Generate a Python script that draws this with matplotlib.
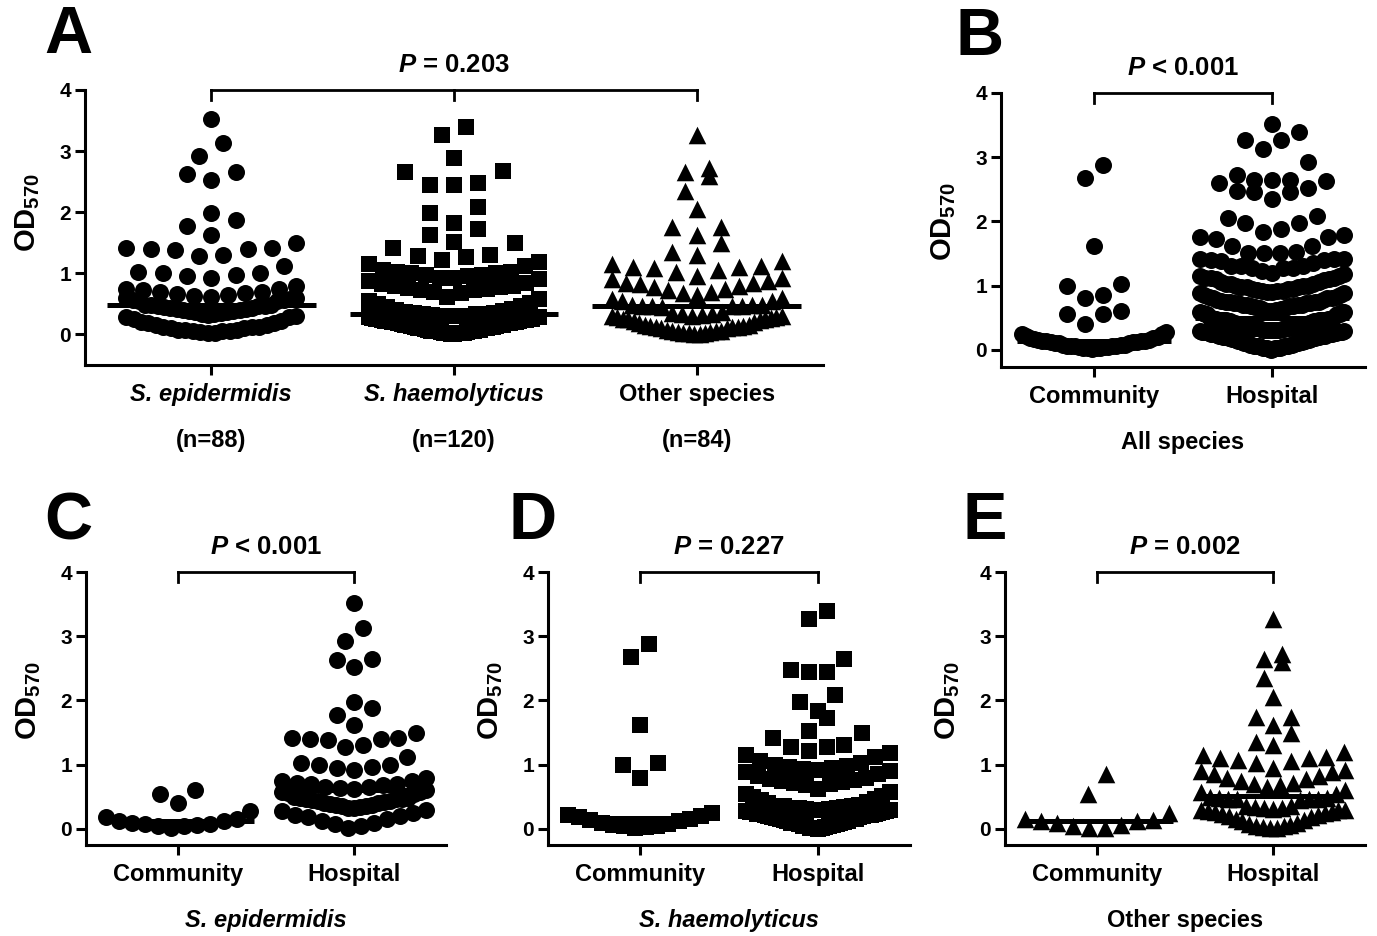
import numpy as np
import matplotlib
matplotlib.use("Agg")
import matplotlib.pyplot as plt
from matplotlib import transforms

plt.rcParams.update({
    'font.family': 'Liberation Sans',
    'font.weight': 'bold',
    'mathtext.fontset': 'custom',
    'mathtext.rm': 'Liberation Sans:bold',
    'mathtext.bf': 'Liberation Sans:bold',
    'mathtext.it': 'Liberation Sans:bold:italic',
    'axes.linewidth': 2.2,
})

########### Daten (OD570) ###########
se_comm = [0.02, 0.04, 0.05, 0.06, 0.07, 0.08, 0.10, 0.12, 0.13, 0.15, 0.18, 0.28, 0.40, 0.55, 0.60]
se_hosp = [3.52, 3.13, 2.92, 2.65, 2.63, 2.52, 1.98, 1.88, 1.78, 1.62, 1.50, 1.42, 1.42, 1.40,
           1.40, 1.38, 1.30, 1.28, 1.12, 1.02, 1.00, 1.00, 0.97, 0.95, 0.92, 0.80, 0.75,
           0.74, 0.72, 0.70, 0.70, 0.68, 0.66, 0.65, 0.63, 0.62, 0.60,
           0.58, 0.57, 0.56, 0.55, 0.48, 0.47, 0.49, 0.48, 0.47, 0.46, 0.45, 0.44, 0.43,
           0.42, 0.41, 0.40, 0.39, 0.38, 0.37, 0.36, 0.35, 0.34, 0.33, 0.32, 0.30, 0.28,
           0.25, 0.22, 0.20, 0.18, 0.15, 0.12, 0.10, 0.08, 0.05, 0.02]
sh_comm = [2.88, 2.68, 1.62, 1.02, 1.00, 0.80, 0.25, 0.22, 0.20, 0.18, 0.16, 0.14, 0.12,
           0.10, 0.08, 0.06, 0.05, 0.04, 0.03, 0.02]
sh_hosp = [3.40, 3.27, 2.65, 2.47, 2.45, 2.45, 2.08, 1.98, 1.83, 1.72, 1.52, 1.50, 1.42,
           1.30, 1.28, 1.27, 1.22, 1.18, 1.15, 1.12, 1.05, 1.02, 1.00, 0.98, 0.97, 0.95,
           0.93, 0.92, 0.90, 0.88, 0.85, 0.82, 0.80, 0.78, 0.76, 0.75, 0.73, 0.72, 0.70,
           0.68, 0.62, 0.58, 0.55, 0.52, 0.50, 0.47, 0.45, 0.42, 0.40, 0.38,
           0.36, 0.35, 0.34, 0.33, 0.32, 0.31, 0.30, 0.29, 0.28, 0.27, 0.26, 0.25, 0.24,
           0.23, 0.22, 0.21, 0.20, 0.19, 0.18, 0.17, 0.16, 0.15, 0.14, 0.13, 0.12, 0.11,
           0.10, 0.09, 0.08, 0.07, 0.06, 0.05, 0.04, 0.03, 0.02, 0.01, 0.00, 0.35, 0.33,
           0.31, 0.30, 0.28, 0.26, 0.24, 0.22, 0.20, 0.15, 0.10, 0.05, 0.02]
oth_comm = [0.85, 0.55, 0.25, 0.15, 0.14, 0.13, 0.12, 0.10, 0.06, 0.04, 0.02, 0.01]
oth_hosp = [3.27, 2.72, 2.65, 2.60, 2.35, 2.05, 1.75, 1.75, 1.62, 1.50, 1.35, 1.30, 1.20,
            1.15, 1.12, 1.10, 1.10, 1.08, 1.05, 1.02, 0.95, 0.92, 0.90, 0.88, 0.85, 0.82,
            0.80, 0.78, 0.75, 0.72, 0.70, 0.68, 0.65, 0.60, 0.58, 0.55,
            0.49, 0.48, 0.48, 0.47, 0.47, 0.46, 0.46, 0.45, 0.35, 0.34, 0.33, 0.32, 0.31,
            0.30, 0.29, 0.28, 0.27, 0.26, 0.25, 0.24, 0.22, 0.20, 0.18, 0.16, 0.14, 0.12,
            0.10, 0.08, 0.06, 0.05, 0.04, 0.03, 0.02, 0.01, 0.30, 0.36]

species = ['S. epidermidis', 'S. haemolyticus', 'Other species']
n_labels = ['(n=88)', '(n=120)', '(n=84)']
origin = ['Community', 'Hospital']
p_values = ['= 0.203', '< 0.001', '< 0.001', '= 0.227', '= 0.002']

W, H = 1377, 936


def box(l, t, r, b):
    return [l / W, 1 - b / H, (r - l) / W, (b - t) / H]


def swarm(vals, x0, bin_h, step, half_w):
    # Prism-artige Punktwolke: Zeilen nach y, kleinste Werte in der Mitte
    vals = np.sort(np.asarray(vals, float))
    xs, ys = [], []
    i = 0
    while i < len(vals):
        j = i
        while j < len(vals) and vals[j] < vals[i] + bin_h:
            j += 1
        row = vals[i:j]
        n = len(row)
        d = step if n < 2 else min(step, 2 * half_w / (n - 1))
        pos = (np.arange(n) - (n - 1) / 2) * d
        order = sorted(range(n), key=lambda k: (abs(pos[k]), pos[k]))
        for v, k in zip(row, order):
            xs.append(x0 + pos[k])
            ys.append(v)
        i = j
    return np.array(xs), np.array(ys)


def panel(rect, groups, markers, sizes, ylo, half_px, ticklabels, italic, ptext, letter, letter_xy):
    ax = fig.add_axes(box(*rect))
    ncat = len(groups)
    px_unit = (rect[2] - rect[0]) / (ncat - 1 + 1.04)
    for i, (g, m, s) in enumerate(zip(groups, markers, sizes)):
        x, y = swarm(g, i, 0.3, 0.1, half_px / px_unit)
        ax.scatter(x, y, marker=m, s=s, color='k', linewidths=0, clip_on=False, zorder=2)
        med = np.median(g)
        ax.plot([i - 0.43, i + 0.43], [med, med], color='k', lw=3.6,
                solid_capstyle='butt', zorder=3, clip_on=False)
    ax.set_xlim(-0.52, ncat - 1 + 0.52)
    ax.set_ylim(ylo, 4)
    ax.set_yticks([0, 1, 2, 3, 4])
    ax.set_xticks(range(ncat))
    ax.set_xticklabels(ticklabels, fontsize=17)
    for lab, it in zip(ax.get_xticklabels(), italic):
        lab.set_fontstyle('italic' if it else 'normal')
    for sp in ['top', 'right']:
        ax.spines[sp].set_visible(False)
    ax.tick_params(axis='both', direction='out', length=7, width=2.2, color='k')
    ax.tick_params(axis='y', labelsize=15, pad=3)
    ax.tick_params(axis='x', pad=6)
    # Klammer mit P-Wert
    tick_h = 10 / (ax.get_position().height * H) * (4 - ylo)
    ax.plot([0, ncat - 1], [4, 4], color='k', lw=2, clip_on=False)
    for i in range(ncat):
        ax.plot([i, i], [4, 4 - tick_h], color='k', lw=2, clip_on=False)
    ax.annotate(r'$\mathit{P}$ ' + ptext, xy=((ncat - 1) / 2, 4), xytext=(0, 18),
                textcoords='offset points', ha='center', va='center', fontsize=18.5)
    # y-Achsenbeschriftung
    trans = transforms.blended_transform_factory(ax.transAxes, ax.transData)
    xlab = -57 / (ax.get_position().width * W)
    ax.text(xlab, 2, r'OD$_{570}$', rotation=90, transform=trans, ha='center',
            va='center', fontsize=21)
    fig.text(letter_xy[0] / W, 1 - letter_xy[1] / H, letter, fontsize=48,
             ha='center', va='center')
    return ax


fig = plt.figure(figsize=(13.77, 9.36), dpi=100)

# A
axA = panel((85, 90, 823, 365),
            [se_comm + se_hosp, sh_comm + sh_hosp, oth_comm + oth_hosp],
            ['o', 's', '^'], [150, 120, 160], -0.5, 85,
            species, [True, True, False], p_values[0], 'A', (68, 36))
for i, t in enumerate(n_labels):
    axA.annotate(t, xy=(i, 0), xycoords=('data', 'axes fraction'), xytext=(0, -54),
                 textcoords='offset points', ha='center', va='center', fontsize=17)

# B
axB = panel((1001, 93, 1365, 367),
            [se_comm + sh_comm + oth_comm, se_hosp + sh_hosp + oth_hosp],
            ['o', 'o'], [150, 150], -0.27, 72,
            origin, [False, False], p_values[1], 'B', (980, 38))
axB.annotate('All species', xy=(0.5, 0), xycoords=('data', 'axes fraction'), xytext=(0, -54),
             textcoords='offset points', ha='center', va='center', fontsize=17)

# C, D, E
subs = [(se_comm, se_hosp, 'o', 150), (sh_comm, sh_hosp, 's', 120), (oth_comm, oth_hosp, '^', 160)]
rects = [(86, 572, 446, 845), (548, 572, 910, 845), (1005, 572, 1365, 845)]
letters = [('C', (68, 522)), ('D', (533, 522)), ('E', (985, 522))]
for k in range(3):
    c, h, m, s = subs[k]
    ax = panel(rects[k], [c, h], [m, m], [s, s], -0.25, 72,
               origin, [False, False], p_values[k + 2], letters[k][0], letters[k][1])
    ax.annotate(species[k], xy=(0.5, 0), xycoords=('data', 'axes fraction'), xytext=(0, -54),
                textcoords='offset points', ha='center', va='center', fontsize=17,
                fontstyle='italic' if k < 2 else 'normal')

plt.savefig('out.png', dpi=100)
